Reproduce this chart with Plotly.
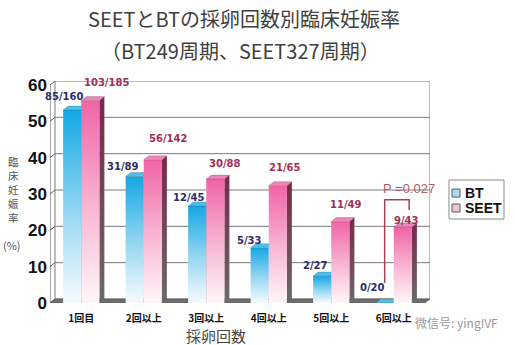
import plotly.graph_objects as go

# ---------------- data ----------------
categories = ["1回目", "2回以上", "3回以上", "4回以上", "5回以上", "6回以上"]
bt_rate = [53.1, 34.8, 26.7, 15.2, 7.4, 0.0]
seet_rate = [55.7, 39.4, 34.1, 32.3, 22.4, 20.9]
bt_labels = ["85/160", "31/89", "12/45", "5/33", "2/27", "0/20"]
seet_labels = ["103/185", "56/142", "30/88", "21/65", "11/49", "9/43"]
y_ticks = [0, 10, 20, 30, 40, 50, 60]
series_names = ["BT", "SEET"]
p_value_text = "P =0.027"
title_line1 = "SEETとBTの採卵回数別臨床妊娠率"
title_line2 = "（BT249周期、SEET327周期）"
y_title = "臨床妊娠率"
x_title = "採卵回数"
watermark = "微信号: yingIVF"

# ---------------- geometry / style ----------------
W_IMG, H_IMG = 515, 345
L, R, T, B = 50, 85, 81, 42
PW = W_IMG - L - R
PH = H_IMG - T - B
X0 = 0.5
DEPTH_X_PX, DEPTH_Y_PX = 5, 4
UX = (PW - DEPTH_X_PX) / len(categories)
YMAX = 60
UY = (PH - DEPTH_Y_PX) / YMAX
DX = DEPTH_X_PX / UX
DY = DEPTH_Y_PX / UY
XR = [X0, X0 + len(categories) + DX]
YR = [0, YMAX + DY]
BW = 0.29

# label nudges in pixels (dx, dy above bar top)
BT_NUDGE = [(-8, 14), (-12, 10), (-8, 8), (-10, 7), (-7, 11), (-12, 16)]
SEET_NUDGE = [(16, 18), (15, 21), (10, 16), (7, 18), (6, 17), (4, 7)]

BT_GRAD = [[0, "#f6fbfe"], [0.45, "#9ad8f2"], [1, "#14a8e4"]]
SEET_GRAD = [[0, "#fff6f9"], [0.45, "#f8b9d6"], [1, "#f064a6"]]
BT_SIDE = [[0, "#6a6a6a"], [1, "#1d6f92"]]
SEET_SIDE = [[0, "#6a6a6a"], [1, "#7a2848"]]
BT_TOP = "#4cc0ec"
SEET_TOP = "#ef86b8"
BT_TXT = "#2c2c6c"
SEET_TXT = "#a03052"


def px_x(px):
    return (px - L) / PW


def px_y(py):
    return (H_IMG - B - py) / PH


fig = go.Figure()


def poly(xs, ys, fill=None, grad=None, line_color="rgba(0,0,0,0)", lw=0):
    tr = go.Scatter(
        x=xs + [xs[0]], y=ys + [ys[0]], mode="lines", fill="toself",
        line=dict(width=lw, color=line_color), hoverinfo="skip", showlegend=False,
    )
    if grad is not None:
        tr.fillgradient = dict(type="vertical", colorscale=grad)
    else:
        tr.fillcolor = fill
    fig.add_trace(tr)


for i, cat in enumerate(categories):
    c = i + 1
    for s, (vals, grad, side, top, x_left) in enumerate([
        (bt_rate, BT_GRAD, BT_SIDE, BT_TOP, c - BW),
        (seet_rate, SEET_GRAD, SEET_SIDE, SEET_TOP, c),
    ]):
        v = vals[i]
        xr_ = x_left + BW
        if v > 0:
            poly([xr_, xr_ + DX, xr_ + DX, xr_], [0, DY, v + DY, v], grad=side)
            poly([x_left, xr_, xr_, x_left], [0, 0, v, v], grad=grad)
        poly([x_left, xr_, xr_ + DX, x_left + DX], [v, v, v + DY, v + DY],
             fill=top, line_color="rgba(60,60,60,0.5)", lw=0.5)

shapes = []
for t in y_ticks:
    shapes.append(dict(type="line", xref="x", yref="y", layer="below",
                       x0=X0 + DX, x1=X0 + len(categories) + DX, y0=t + DY, y1=t + DY,
                       line=dict(color="#7a7a7a", width=1)))
    shapes.append(dict(type="line", xref="x", yref="y", layer="below",
                       x0=X0, x1=X0 + DX, y0=t, y1=t + DY,
                       line=dict(color="#555555", width=1)))
for xv in [X0 + DX, X0 + len(categories) + DX]:
    shapes.append(dict(type="line", xref="x", yref="y", layer="below",
                       x0=xv, x1=xv, y0=DY, y1=YMAX + DY,
                       line=dict(color="#7a7a7a", width=1)))
shapes.append(dict(type="line", xref="x", yref="y", layer="below",
                   x0=X0, x1=X0, y0=0, y1=YMAX, line=dict(color="#555555", width=1)))
xe = X0 + len(categories)
shapes.append(dict(type="path", xref="x", yref="y", layer="below",
                   path=f"M {X0},0 L {xe},0 L {xe + DX},{DY} L {X0 + DX},{DY} Z",
                   fillcolor="#6e6e6e", line=dict(color="#4a4a4a", width=0.5)))

# significance bracket for last category (derived from data)
c6 = len(categories)
bx_l = c6 - BW / 2
bx_r = c6 + BW * 0.85
by_top = seet_rate[-1] + 7.5
by_l = bt_rate[-1] + 5.5
by_r = seet_rate[-1] + 4.7
shapes.append(dict(type="path", xref="x", yref="y", layer="above",
                   path=f"M {bx_l},{by_l} L {bx_l},{by_top} L {bx_r},{by_top} L {bx_r},{by_r}",
                   line=dict(color="#a04456", width=1.5)))

# legend box
shapes.append(dict(type="rect", xref="paper", yref="paper",
                   x0=px_x(449), x1=px_x(504), y0=px_y(219), y1=px_y(180),
                   line=dict(color="#8a8a8a", width=1), fillcolor="white"))
for yc, col in [(193, "#a6def0"), (208, "#f4c2d6")]:
    shapes.append(dict(type="rect", xref="paper", yref="paper",
                       x0=px_x(452), x1=px_x(460), y0=px_y(yc + 4), y1=px_y(yc - 4),
                       line=dict(color="#50606a", width=1), fillcolor=col))

annotations = []
for i in range(len(categories)):
    c = i + 1
    annotations.append(dict(x=c - BW / 2, y=bt_rate[i], xref="x", yref="y",
                            text=f"<b>{bt_labels[i]}</b>", showarrow=False,
                            xshift=BT_NUDGE[i][0], yshift=BT_NUDGE[i][1],
                            xanchor="center", yanchor="middle",
                            font=dict(family="DejaVu Sans", size=10, color=BT_TXT)))
    annotations.append(dict(x=c + BW / 2, y=seet_rate[i], xref="x", yref="y",
                            text=f"<b>{seet_labels[i]}</b>", showarrow=False,
                            xshift=SEET_NUDGE[i][0], yshift=SEET_NUDGE[i][1],
                            xanchor="center", yanchor="middle",
                            font=dict(family="DejaVu Sans", size=10, color=SEET_TXT)))
annotations.append(dict(x=c6 + BW * 0.83, y=by_top + 3, xref="x", yref="y",
                        text=p_value_text, showarrow=False, xanchor="center", yanchor="middle",
                        font=dict(family="Liberation Sans", size=13, color="#b45a6a")))
annotations.append(dict(x=px_x(244), y=px_y(18), xref="paper", yref="paper", text=title_line1,
                        showarrow=False, xanchor="center", yanchor="middle",
                        font=dict(family="Noto Sans CJK JP", size=20, color="#404040")))
annotations.append(dict(x=px_x(240), y=px_y(50), xref="paper", yref="paper", text=title_line2,
                        showarrow=False, xanchor="center", yanchor="middle",
                        font=dict(family="Noto Sans CJK JP", size=20, color="#404040")))
# y title: one character per line
for k, ch in enumerate(y_title):
    annotations.append(dict(x=px_x(13), y=px_y(161 + 14 * k), xref="paper", yref="paper",
                            text=ch, showarrow=False, xanchor="center", yanchor="middle",
                            font=dict(family="Noto Sans CJK JP", size=10.5, color="#555555")))
annotations.append(dict(x=px_x(12), y=px_y(245), xref="paper", yref="paper", text="(%)",
                        showarrow=False, xanchor="center", yanchor="middle",
                        font=dict(family="Noto Sans CJK JP", size=11, color="#555555")))
annotations.append(dict(x=px_x(216), y=px_y(335), xref="paper", yref="paper", text=x_title,
                        showarrow=False, xanchor="center", yanchor="middle",
                        font=dict(family="Noto Sans CJK JP", size=15, color="#454545")))
for yc, name in [(193, series_names[0]), (208, series_names[1])]:
    annotations.append(dict(x=px_x(463), y=px_y(yc), xref="paper", yref="paper",
                            text=f"<b>{name}</b>", showarrow=False, xanchor="left", yanchor="middle",
                            font=dict(family="Liberation Sans", size=14, color="#111111")))
annotations.append(dict(x=px_x(456), y=px_y(322), xref="paper", yref="paper", text=watermark,
                        showarrow=False, xanchor="center", yanchor="middle",
                        font=dict(family="Noto Sans CJK SC", size=12, color="#9a9a9a")))

fig.update_layout(
    width=W_IMG, height=H_IMG, autosize=False,
    margin=dict(l=L, r=R, t=T, b=B, pad=0),
    paper_bgcolor="white", plot_bgcolor="white",
    showlegend=False,
    shapes=shapes, annotations=annotations,
    xaxis=dict(range=XR, tickvals=[i + 1 for i in range(len(categories))],
               ticktext=[f"<b>{c}</b>" for c in categories],
               showgrid=False, zeroline=False, showline=False, ticks="",
               ticklabelstandoff=8,
               tickfont=dict(family="Noto Sans CJK JP", size=10, color="#111111"),
               fixedrange=True),
    yaxis=dict(range=YR, tickvals=y_ticks, ticktext=[f"<b>{t}</b>" for t in y_ticks],
               showgrid=False, zeroline=False, showline=False, ticks="",
               ticklabelstandoff=2,
               tickfont=dict(family="Liberation Sans", size=17, color="#111111"),
               fixedrange=True),
)

fig.write_html("out.html")
